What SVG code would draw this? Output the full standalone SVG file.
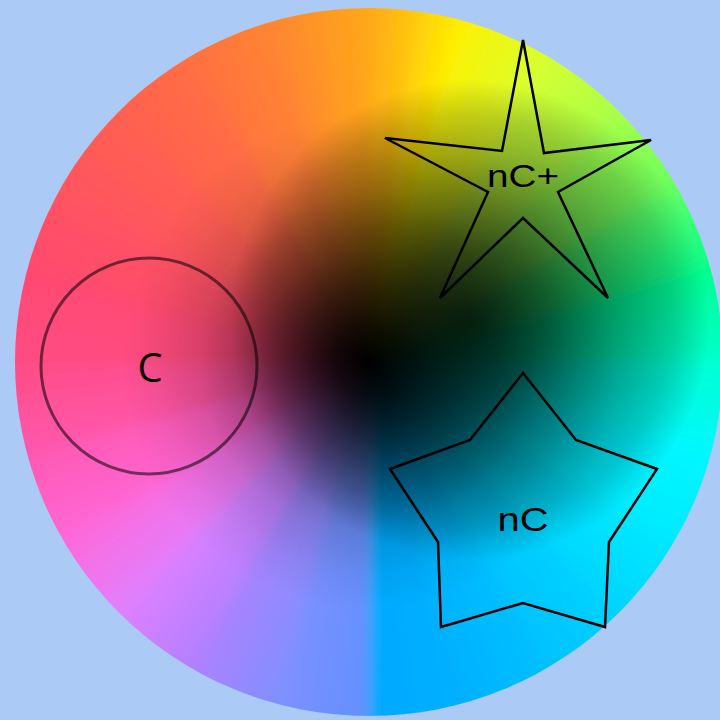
<svg xmlns="http://www.w3.org/2000/svg" width="720" height="720" viewBox="0 0 720 720">
<style>
.wedge{stroke-width:1}
.star{fill:none;stroke:#000;stroke-width:2.5;stroke-linejoin:miter}
.lbl{font-family:"Liberation Sans",Arial,sans-serif;fill:#000;text-anchor:middle}
.lblc{font-family:"Open Sans","Noto Sans",sans-serif;fill:#000;text-anchor:middle}
</style>
<defs>
<clipPath id="wheelClip"><circle cx="369" cy="362" r="354"/></clipPath>
<filter id="soft" x="-10%" y="-10%" width="120%" height="120%"><feGaussianBlur stdDeviation="6"/></filter>
<linearGradient id="g0" gradientUnits="userSpaceOnUse" x1="739" y1="362" x2="726.4" y2="457.8"><stop offset="0" stop-color="#00ffd0"/><stop offset="1" stop-color="#00f8ff"/></linearGradient>
<linearGradient id="g1" gradientUnits="userSpaceOnUse" x1="726.4" y1="457.8" x2="689.4" y2="547"><stop offset="0" stop-color="#00f8ff"/><stop offset="1" stop-color="#00eaff"/></linearGradient>
<linearGradient id="g2" gradientUnits="userSpaceOnUse" x1="689.4" y1="547" x2="630.6" y2="623.6"><stop offset="0" stop-color="#00eaff"/><stop offset="1" stop-color="#00d4ff"/></linearGradient>
<linearGradient id="g3" gradientUnits="userSpaceOnUse" x1="630.6" y1="623.6" x2="554" y2="682.4"><stop offset="0" stop-color="#00d4ff"/><stop offset="1" stop-color="#00c0ff"/></linearGradient>
<linearGradient id="g4" gradientUnits="userSpaceOnUse" x1="554" y1="682.4" x2="464.8" y2="719.4"><stop offset="0" stop-color="#00c0ff"/><stop offset="1" stop-color="#00b0ff"/></linearGradient>
<linearGradient id="g5" gradientUnits="userSpaceOnUse" x1="464.8" y1="719.4" x2="369" y2="732"><stop offset="0" stop-color="#00b0ff"/><stop offset="1" stop-color="#00a8ff"/></linearGradient>
<linearGradient id="g6" gradientUnits="userSpaceOnUse" x1="369" y1="732" x2="273.2" y2="719.4"><stop offset="0" stop-color="#6090ff"/><stop offset="1" stop-color="#8090ff"/></linearGradient>
<linearGradient id="g7" gradientUnits="userSpaceOnUse" x1="273.2" y1="719.4" x2="184" y2="682.4"><stop offset="0" stop-color="#8090ff"/><stop offset="1" stop-color="#b080ff"/></linearGradient>
<linearGradient id="g8" gradientUnits="userSpaceOnUse" x1="184" y1="682.4" x2="107.4" y2="623.6"><stop offset="0" stop-color="#b080ff"/><stop offset="1" stop-color="#e080ff"/></linearGradient>
<linearGradient id="g9" gradientUnits="userSpaceOnUse" x1="107.4" y1="623.6" x2="48.6" y2="547"><stop offset="0" stop-color="#e080ff"/><stop offset="1" stop-color="#ff68d8"/></linearGradient>
<linearGradient id="g10" gradientUnits="userSpaceOnUse" x1="48.6" y1="547" x2="11.6" y2="457.8"><stop offset="0" stop-color="#ff68d8"/><stop offset="1" stop-color="#ff58b0"/></linearGradient>
<linearGradient id="g11" gradientUnits="userSpaceOnUse" x1="11.6" y1="457.8" x2="-1" y2="362"><stop offset="0" stop-color="#ff58b0"/><stop offset="1" stop-color="#ff4c84"/></linearGradient>
<linearGradient id="g12" gradientUnits="userSpaceOnUse" x1="-1" y1="362" x2="11.6" y2="266.2"><stop offset="0" stop-color="#ff4c84"/><stop offset="1" stop-color="#ff4a70"/></linearGradient>
<linearGradient id="g13" gradientUnits="userSpaceOnUse" x1="11.6" y1="266.2" x2="48.6" y2="177"><stop offset="0" stop-color="#ff4a70"/><stop offset="1" stop-color="#ff5560"/></linearGradient>
<linearGradient id="g14" gradientUnits="userSpaceOnUse" x1="48.6" y1="177" x2="107.4" y2="100.4"><stop offset="0" stop-color="#ff5560"/><stop offset="1" stop-color="#ff6050"/></linearGradient>
<linearGradient id="g15" gradientUnits="userSpaceOnUse" x1="107.4" y1="100.4" x2="184" y2="41.6"><stop offset="0" stop-color="#ff6050"/><stop offset="1" stop-color="#ff7042"/></linearGradient>
<linearGradient id="g16" gradientUnits="userSpaceOnUse" x1="184" y1="41.6" x2="273.2" y2="4.6"><stop offset="0" stop-color="#ff7042"/><stop offset="1" stop-color="#ff8830"/></linearGradient>
<linearGradient id="g17a" gradientUnits="userSpaceOnUse" x1="273.2" y1="4.6" x2="320.7" y2="-4.8"><stop offset="0" stop-color="#ff8830"/><stop offset="1" stop-color="#ff9824"/></linearGradient>
<linearGradient id="g17b" gradientUnits="userSpaceOnUse" x1="320.7" y1="-4.8" x2="369" y2="-8"><stop offset="0" stop-color="#ff9824"/><stop offset="1" stop-color="#ffa818"/></linearGradient>
<linearGradient id="g18a" gradientUnits="userSpaceOnUse" x1="369" y1="-8" x2="417.3" y2="-4.8"><stop offset="0" stop-color="#ffa818"/><stop offset="1" stop-color="#ffc80c"/></linearGradient>
<linearGradient id="g18b" gradientUnits="userSpaceOnUse" x1="417.3" y1="-4.8" x2="464.8" y2="4.6"><stop offset="0" stop-color="#ffc80c"/><stop offset="1" stop-color="#fff000"/></linearGradient>
<linearGradient id="g19" gradientUnits="userSpaceOnUse" x1="464.8" y1="4.6" x2="554" y2="41.6"><stop offset="0" stop-color="#fff000"/><stop offset="1" stop-color="#d8ff30"/></linearGradient>
<linearGradient id="g20" gradientUnits="userSpaceOnUse" x1="554" y1="41.6" x2="630.6" y2="100.4"><stop offset="0" stop-color="#d8ff30"/><stop offset="1" stop-color="#a8ff48"/></linearGradient>
<linearGradient id="g21" gradientUnits="userSpaceOnUse" x1="630.6" y1="100.4" x2="689.4" y2="177"><stop offset="0" stop-color="#a8ff48"/><stop offset="1" stop-color="#68ff60"/></linearGradient>
<linearGradient id="g22" gradientUnits="userSpaceOnUse" x1="689.4" y1="177" x2="726.4" y2="266.2"><stop offset="0" stop-color="#68ff60"/><stop offset="1" stop-color="#00ff90"/></linearGradient>
<linearGradient id="g23" gradientUnits="userSpaceOnUse" x1="726.4" y1="266.2" x2="739" y2="362"><stop offset="0" stop-color="#00ff90"/><stop offset="1" stop-color="#00ffd0"/></linearGradient>
<radialGradient id="darkSym" gradientUnits="userSpaceOnUse" cx="369" cy="362" r="354">
<stop offset="0" stop-color="#000" stop-opacity="1"/>
<stop offset="0.1" stop-color="#000" stop-opacity="0.85"/>
<stop offset="0.22" stop-color="#000" stop-opacity="0.6"/>
<stop offset="0.32" stop-color="#000" stop-opacity="0.4"/>
<stop offset="0.48" stop-color="#000" stop-opacity="0.15"/>
<stop offset="0.6" stop-color="#000" stop-opacity="0.05"/>
<stop offset="0.7" stop-color="#000" stop-opacity="0"/>
</radialGradient>
<radialGradient id="darkRight" gradientUnits="userSpaceOnUse" cx="470" cy="320" r="240">
<stop offset="0" stop-color="#000" stop-opacity="0.8"/>
<stop offset="0.3" stop-color="#000" stop-opacity="0.62"/>
<stop offset="0.6" stop-color="#000" stop-opacity="0.38"/>
<stop offset="0.85" stop-color="#000" stop-opacity="0.18"/>
<stop offset="1" stop-color="#000" stop-opacity="0"/>
</radialGradient>
</defs>
<rect x="0" y="0" width="720" height="720" fill="#abcaf5"/>
<g id="wheel" clip-path="url(#wheelClip)">
<g filter="url(#soft)">
<polygon class="wedge" points="369,362 739,362 726.4,457.8" fill="url(#g0)" stroke="url(#g0)"/>
<polygon class="wedge" points="369,362 726.4,457.8 689.4,547" fill="url(#g1)" stroke="url(#g1)"/>
<polygon class="wedge" points="369,362 689.4,547 630.6,623.6" fill="url(#g2)" stroke="url(#g2)"/>
<polygon class="wedge" points="369,362 630.6,623.6 554,682.4" fill="url(#g3)" stroke="url(#g3)"/>
<polygon class="wedge" points="369,362 554,682.4 464.8,719.4" fill="url(#g4)" stroke="url(#g4)"/>
<polygon class="wedge" points="369,362 464.8,719.4 369,732" fill="url(#g5)" stroke="url(#g5)"/>
<polygon class="wedge" points="369,362 369,732 273.2,719.4" fill="url(#g6)" stroke="url(#g6)"/>
<polygon class="wedge" points="369,362 273.2,719.4 184,682.4" fill="url(#g7)" stroke="url(#g7)"/>
<polygon class="wedge" points="369,362 184,682.4 107.4,623.6" fill="url(#g8)" stroke="url(#g8)"/>
<polygon class="wedge" points="369,362 107.4,623.6 48.6,547" fill="url(#g9)" stroke="url(#g9)"/>
<polygon class="wedge" points="369,362 48.6,547 11.6,457.8" fill="url(#g10)" stroke="url(#g10)"/>
<polygon class="wedge" points="369,362 11.6,457.8 -1,362" fill="url(#g11)" stroke="url(#g11)"/>
<polygon class="wedge" points="369,362 -1,362 11.6,266.2" fill="url(#g12)" stroke="url(#g12)"/>
<polygon class="wedge" points="369,362 11.6,266.2 48.6,177" fill="url(#g13)" stroke="url(#g13)"/>
<polygon class="wedge" points="369,362 48.6,177 107.4,100.4" fill="url(#g14)" stroke="url(#g14)"/>
<polygon class="wedge" points="369,362 107.4,100.4 184,41.6" fill="url(#g15)" stroke="url(#g15)"/>
<polygon class="wedge" points="369,362 184,41.6 273.2,4.6" fill="url(#g16)" stroke="url(#g16)"/>
<polygon class="wedge" points="369,362 273.2,4.6 320.7,-4.8" fill="url(#g17a)" stroke="url(#g17a)"/>
<polygon class="wedge" points="369,362 320.7,-4.8 369,-8" fill="url(#g17b)" stroke="url(#g17b)"/>
<polygon class="wedge" points="369,362 369,-8 417.3,-4.8" fill="url(#g18a)" stroke="url(#g18a)"/>
<polygon class="wedge" points="369,362 417.3,-4.8 464.8,4.6" fill="url(#g18b)" stroke="url(#g18b)"/>
<polygon class="wedge" points="369,362 464.8,4.6 554,41.6" fill="url(#g19)" stroke="url(#g19)"/>
<polygon class="wedge" points="369,362 554,41.6 630.6,100.4" fill="url(#g20)" stroke="url(#g20)"/>
<polygon class="wedge" points="369,362 630.6,100.4 689.4,177" fill="url(#g21)" stroke="url(#g21)"/>
<polygon class="wedge" points="369,362 689.4,177 726.4,266.2" fill="url(#g22)" stroke="url(#g22)"/>
<polygon class="wedge" points="369,362 726.4,266.2 739,362" fill="url(#g23)" stroke="url(#g23)"/>
</g>
<circle cx="369" cy="362" r="354" fill="url(#darkRight)"/>
<circle cx="369" cy="362" r="354" fill="url(#darkSym)"/>
</g>
<g id="connectors"></g>
<g id="node-c">
<circle cx="149" cy="366" r="108" fill="none" stroke="#000" stroke-opacity="0.55" stroke-width="3"/>
<text class="lblc" x="150" y="382" font-size="40">C</text>
</g>
<g id="node-ncplus">
<polygon class="star" points="523,40 544,153 651,140 558,192 608,298 523,218 440,298 488,192 385,138 502,151"/>
<text class="lbl" x="523" y="187" font-size="32" textLength="72" lengthAdjust="spacingAndGlyphs">nC+</text>
</g>
<g id="node-nc">
<polygon class="star" points="523,373 576,440 657,469 609,542 605,627 523,603 441,627 438,542 390,469 470,440"/>
<text class="lbl" x="523" y="531" font-size="33" textLength="51" lengthAdjust="spacingAndGlyphs">nC</text>
</g>
</svg>
